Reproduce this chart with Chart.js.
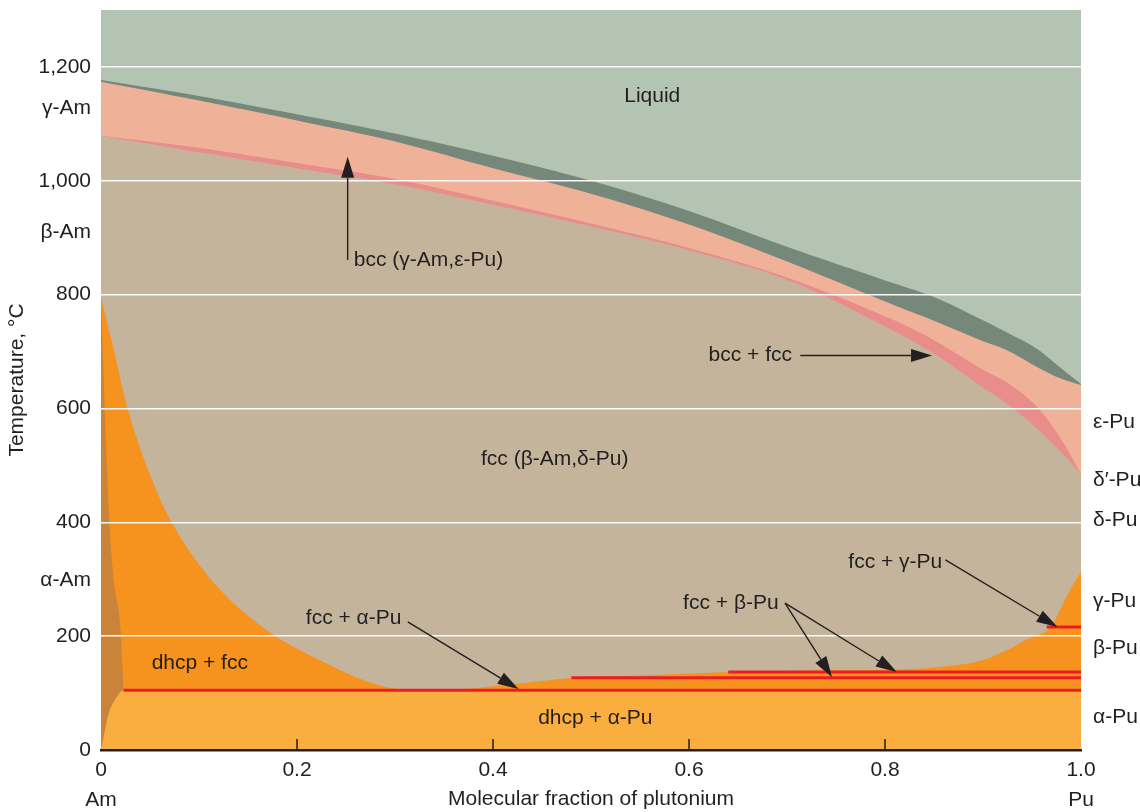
<!DOCTYPE html>
<html>
<head>
<meta charset="utf-8">
<script src="https://cdn.jsdelivr.net/npm/chart.js@4.4.1/dist/chart.umd.min.js"></script>
<style>
  html, body { margin: 0; padding: 0; background: #fff; }
  #wrap { width: 1140px; height: 812px; }
</style>
</head>
<body>
<div id="wrap"><canvas id="phase-chart"></canvas></div>
<script>
// phase boundaries: x = molecular fraction of Pu, y = temperature (C)
const upperX = [0, 0.1, 0.2, 0.3, 0.4, 0.5, 0.6, 0.7, 0.8, 0.85, 0.9, 0.925, 0.955, 0.98, 1.0];
const liquidus = [1177, 1149, 1117, 1083, 1044, 1000, 947, 884, 825, 796, 755, 733, 705, 670, 643];
const solidus = [1174, 1141, 1106, 1069, 1022, 977, 923, 858, 788, 754, 718, 702, 673, 652, 641];
const bccSolvus = [1079, 1058, 1031, 1003, 965, 925, 882, 830, 762, 720, 668, 645, 603, 545, 485];
const fccSolvus = [1079, 1050, 1022, 994, 958, 920, 878, 826, 744, 696, 637, 608, 565, 522, 485];

const liquidX = [0, 1];
const liquidTop = [1300, 1300];

const fccLowX = [0, 0.013, 0.027, 0.055, 0.073, 0.1, 0.129, 0.15, 0.178, 0.2, 0.23, 0.26, 0.29, 0.32, 0.36, 0.4, 0.45, 0.48, 0.55, 0.64, 0.7, 0.75, 0.8, 0.85, 0.9, 0.925, 0.948, 0.969, 0.986, 1.0];
const fccLow = [796, 703, 601, 462, 397, 326, 268, 236, 200, 178, 152, 128, 111, 105, 106, 112, 121, 127, 131, 137, 139, 140, 141, 145, 158, 176, 197, 216, 272, 313];

const dhcpX = [0, 0.004, 0.008, 0.013, 0.02, 0.023];
const dhcpTop = [796, 592, 416, 299, 211, 105];

const alphaX = [0, 0.003, 0.008, 0.015, 0.023, 1.0];
const alphaTop = [0, 25, 65, 90, 105, 105];

// isotherms (red lines)
const isoTemps = [105, 127, 137, 216];
const isoStart = [0.023, 0.48, 0.64, 0.965];

// axes
const tempTicks = [0, 200, 400, 600, 800, 1000, 1200];
const tempTickLabels = ['0', '200', '400', '600', '800', '1,000', '1,200'];
const amPhaseTemps = [299, 910, 1128];
const amPhases = ['α-Am', 'β-Am', 'γ-Am'];
const puPhaseTemps = [58, 179, 262, 404, 474, 575];
const puPhases = ['α-Pu', 'β-Pu', 'γ-Pu', 'δ-Pu', 'δ′-Pu', 'ε-Pu'];
const fracTicks = [0, 0.2, 0.4, 0.6, 0.8, 1.0];
const fracTickLabels = ['0', '0.2', '0.4', '0.6', '0.8', '1.0'];
const fracEndLabels = ['Am', 'Pu'];

const INK = '#231f20';
const FONT = "'Liberation Sans', Arial, Helvetica, sans-serif";

// region labels and arrows, in data units
const notes = [
  { text: 'Liquid', x: 0.5625, y: 1149, align: 'center' },
  { text: 'bcc (γ-Am,ε-Pu)', x: 0.258, y: 861, align: 'left' },
  { text: 'bcc + fcc', x: 0.62, y: 693, align: 'left' },
  { text: 'fcc (β-Am,δ-Pu)', x: 0.463, y: 511, align: 'center' },
  { text: 'dhcp + fcc', x: 0.1008, y: 153, align: 'center' },
  { text: 'fcc + α-Pu', x: 0.209, y: 232, align: 'left' },
  { text: 'fcc + β-Pu', x: 0.594, y: 258, align: 'left' },
  { text: 'fcc + γ-Pu', x: 0.7626, y: 330, align: 'left' },
  { text: 'dhcp + α-Pu', x: 0.5044, y: 56, align: 'center' }
];
const arrows = [
  [0.2517, 861, 0.2517, 1042],
  [0.7136, 693, 0.848, 693],
  [0.313, 225, 0.426, 107],
  [0.698, 258, 0.746, 128],
  [0.698, 258, 0.812, 137],
  [0.8616, 334, 0.976, 216]
];

const pts = (xs, ys) => xs.map((x, i) => ({ x: x, y: ys[i] }));

const area = (label, xs, ys, color, order, smooth) => ({
  label: label,
  data: pts(xs, ys),
  backgroundColor: color,
  borderWidth: 0,
  borderColor: color,
  pointRadius: 0,
  fill: 'origin',
  tension: smooth ? 0.35 : 0,
  cubicInterpolationMode: smooth ? 'default' : 'monotone',
  order: order
});

const datasets = [
  area('Liquid', liquidX, liquidTop, '#b3c5b2', 20, false),
  area('Liquid + bcc', upperX, liquidus, '#76887a', 19, true),
  area('bcc', upperX, solidus, '#efb299', 18, true),
  area('bcc + fcc', upperX, bccSolvus, '#e98d8b', 17, true),
  area('fcc', upperX, fccSolvus, '#c4b49b', 16, true),
  area('two-phase', fccLowX, fccLow, '#f6921e', 15, false),
  area('dhcp', dhcpX, dhcpTop, '#c9843a', 14, false),
  area('dhcp + α-Pu', alphaX, alphaTop, '#fbae40', 13, false)
];

isoTemps.forEach((t, i) => {
  datasets.push({
    label: 'isotherm ' + t,
    data: pts([isoStart[i], 1.0], [t, t]),
    borderColor: '#ed1c24',
    borderWidth: 3,
    pointRadius: 0,
    fill: false,
    tension: 0,
    order: 1
  });
});

function drawArrow(ctx, x1, y1, x2, y2) {
  const ang = Math.atan2(y2 - y1, x2 - x1);
  const head = 21, half = 6.5;
  const bx = x2 - head * Math.cos(ang), by = y2 - head * Math.sin(ang);
  ctx.beginPath();
  ctx.moveTo(x1, y1);
  ctx.lineTo(bx, by);
  ctx.stroke();
  ctx.beginPath();
  ctx.moveTo(x2, y2);
  ctx.lineTo(bx + half * Math.sin(ang), by - half * Math.cos(ang));
  ctx.lineTo(bx - half * Math.sin(ang), by + half * Math.cos(ang));
  ctx.closePath();
  ctx.fill();
}

const annotate = {
  id: 'annotate',
  afterDraw(chart) {
    const { ctx, scales: { x, y } } = chart;
    ctx.save();
    // small inward ticks on the bottom axis
    ctx.strokeStyle = INK;
    ctx.lineWidth = 1.5;
    fracTicks.slice(1, -1).forEach(v => {
      const px = x.getPixelForValue(v);
      ctx.beginPath();
      ctx.moveTo(px, y.bottom);
      ctx.lineTo(px, y.bottom - 11);
      ctx.stroke();
    });
    // arrows
    ctx.fillStyle = INK;
    ctx.lineWidth = 1.4;
    arrows.forEach(a => {
      drawArrow(ctx, x.getPixelForValue(a[0]), y.getPixelForValue(a[1]),
        x.getPixelForValue(a[2]), y.getPixelForValue(a[3]));
    });
    // labels
    ctx.font = '21px ' + FONT;
    ctx.textBaseline = 'middle';
    notes.forEach(n => {
      ctx.textAlign = n.align;
      ctx.fillText(n.text, x.getPixelForValue(n.x), y.getPixelForValue(n.y));
    });
    ctx.restore();
  }
};

const noPad = s => {
  s.paddingTop = 0;
  s.paddingBottom = 0;
  s.paddingLeft = 0;
  s.paddingRight = 0;
};

Chart.defaults.font.family = FONT;
Chart.defaults.font.size = 21;
Chart.defaults.color = INK;

new Chart(document.getElementById('phase-chart'), {
  type: 'line',
  data: { datasets: datasets },
  options: {
    responsive: true,
    maintainAspectRatio: false,
    animation: false,
    events: [],
    layout: { autoPadding: false, padding: { top: 10, left: 0, right: 0, bottom: 0 } },
    plugins: { legend: { display: false }, tooltip: { enabled: false } },
    scales: {
      x: {
        type: 'linear',
        min: 0,
        max: 1,
        afterBuildTicks: s => { s.ticks = fracTicks.map(v => ({ value: v })); },
        afterFit: s => { s.height = 62; noPad(s); },
        ticks: {
          autoSkip: false,
          maxRotation: 0,
          padding: 6,
          font: { size: 21, lineHeight: 1.4 },
          callback: value => {
            const i = fracTicks.indexOf(value);
            if (i === 0) return [fracTickLabels[i], fracEndLabels[0]];
            if (i === fracTicks.length - 1) return [fracTickLabels[i], fracEndLabels[1]];
            return fracTickLabels[i];
          }
        },
        grid: { color: 'rgba(0,0,0,0)', drawTicks: false },
        border: { display: true, color: INK, width: 2.5, z: 2 },
        title: {
          display: true,
          text: 'Molecular fraction of plutonium',
          font: { size: 21 },
          padding: { top: 0, bottom: 0 }
        }
      },
      y: {
        type: 'linear',
        position: 'left',
        min: 0,
        max: 1300,
        afterBuildTicks: s => {
          s.ticks = tempTicks.concat(amPhaseTemps).sort((a, b) => a - b).map(v => ({ value: v }));
        },
        afterFit: s => { s.width = 101; noPad(s); },
        ticks: {
          autoSkip: false,
          padding: 10,
          callback: value => {
            const i = tempTicks.indexOf(value);
            if (i >= 0) return tempTickLabels[i];
            return amPhases[amPhaseTemps.indexOf(value)];
          }
        },
        grid: {
          z: 1,
          drawTicks: false,
          lineWidth: 1.5,
          color: c => (c.tick && c.tick.value > 0 && tempTicks.includes(c.tick.value)) ? 'rgba(255,255,255,0.95)' : 'rgba(0,0,0,0)'
        },
        border: { display: false },
        title: {
          display: true,
          text: 'Temperature, °C',
          font: { size: 21 },
          padding: { top: 5, bottom: 0 }
        }
      },
      y2: {
        type: 'linear',
        position: 'right',
        min: 0,
        max: 1300,
        afterBuildTicks: s => { s.ticks = puPhaseTemps.map(v => ({ value: v })); },
        afterFit: s => { s.width = 59; noPad(s); },
        ticks: {
          autoSkip: false,
          padding: 12,
          callback: value => puPhases[puPhaseTemps.indexOf(value)]
        },
        grid: { display: false, drawTicks: false },
        border: { display: false }
      }
    }
  },
  plugins: [annotate]
});
</script>
</body>
</html>
